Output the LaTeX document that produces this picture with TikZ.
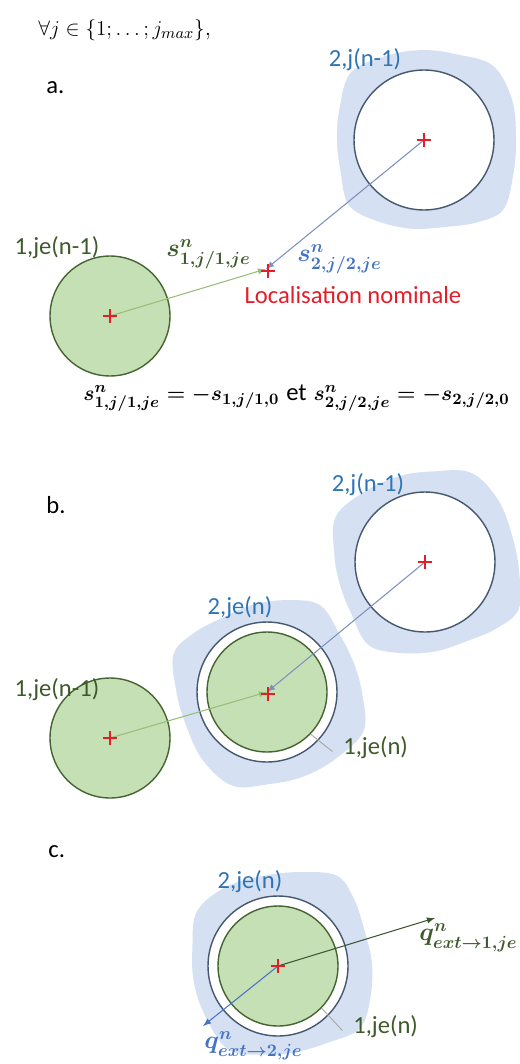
\documentclass[tikz,border=0pt]{standalone}
\usepackage{amsmath}
\usepackage{fontspec}
\usetikzlibrary{shapes.misc}
\newfontfamily\calib{Carlito}
\definecolor{greenfill}{RGB}{197,224,180}
\definecolor{greenline}{RGB}{70,100,50}
\definecolor{greentext}{RGB}{62,90,42}
\definecolor{blobblue}{RGB}{213,224,242}
\definecolor{ringline}{RGB}{70,88,112}
\definecolor{labelblue}{RGB}{46,117,182}
\definecolor{vecblue}{RGB}{68,114,196}
\definecolor{nomred}{RGB}{228,30,40}
\definecolor{arrowgreen}{RGB}{150,190,120}
\definecolor{arrowblue}{RGB}{125,145,190}
\definecolor{arrowdark}{RGB}{62,85,50}
\newcommand\blob[2]{%
  \fill[blobblue,shift={#1},rotate=#2] plot[smooth cycle,tension=0.6] coordinates
  {(0:90) (22:94) (42:104) (58:97) (78:89) (100:90) (122:95) (140:101)
   (160:91) (180:89) (200:92) (222:101) (245:93) (268:90) (290:91)
   (312:100) (335:95)};}
\tikzset{
  lbl/.style={font=\calib\fontsize{14}{17}\selectfont,inner sep=0pt},
  mlbl/.style={font=\fontsize{14}{17}\selectfont,inner sep=0pt},
  disk/.style={circle,draw=greenline,fill=greenfill,line width=0.8pt,
    minimum size=2.4cm,inner sep=0pt},
  ring/.style={circle,draw=ringline,fill=white,line width=0.8pt,
    minimum size=2.8cm,inner sep=0pt},
  nom/.style={cross out,draw=nomred,line width=1pt,rotate=45,
    minimum size=0.17cm,inner sep=0pt},
  leader/.style={draw=gray!70,line width=0.5pt}
}
\begin{document}
\begin{tikzpicture}[x=0.02cm,y=-0.02cm]
\useasboundingbox (0,0) rectangle (520,1064);
\node[mlbl,font=\fontsize{13}{16}\selectfont,anchor=west] (title) at (38,30)
  {$\forall j\in\{1{;}\,{\ldots}\,{;}\,j_{max}\}$,};
% a.
\node[lbl,anchor=west] (pa) at (46,88) {a.};
\blob{(426,140)}{0}
\node[ring] (c2a) at (424,140) {};
\node[disk] (c1a) at (110,316) {};
\coordinate (nomA) at (266,269);
\draw[arrowgreen,line width=0.6pt,-latex] (c1a.center) -- (nomA);
\draw[arrowblue,line width=0.6pt,-latex] (c2a.center) -- (nomA);
\node[nom] (x1a) at (c1a.center) {};
\node[nom] (x2a) at (c2a.center) {};
\node[nom] (xnA) at (268,271) {};
\node[lbl,text=labelblue] (l2a) at (365,60) {2,j(n-1)};
\node[lbl,text=greentext] (l1a) at (57,248) {1,je(n-1)};
\node[mlbl,text=greentext,anchor=west] (s1a) at (166,254) {$\boldsymbol{s^{n}_{1,j/1,je}}$};
\node[mlbl,text=vecblue,anchor=west] (s2a) at (297,259) {$\boldsymbol{s^{n}_{2,j/2,je}}$};
\node[lbl,text=nomred] (nomlbl) at (353,295) {Localisation nominale};
\node[mlbl,font=\fontsize{12.3}{15}\selectfont,anchor=west] (eq) at (83,398)
  {$\boldsymbol{s^{n}_{1,j/1,je}=-s_{1,j/1,0}}$ {\calib\fontsize{14}{17}\selectfont et}
   $\boldsymbol{s^{n}_{2,j/2,je}=-s_{2,j/2,0}}$};
% b.
\node[lbl,anchor=west] (pb) at (46,505) {b.};
\blob{(426,562)}{15}
\blob{(270,693)}{200}
\node[ring] (c2b) at (425,562) {};
\node[ring] (cje2b) at (267,692) {};
\node[disk] (cje1b) at (267,692) {};
\node[disk] (c1b) at (110,738) {};
\draw[arrowgreen,line width=0.6pt,-latex] (c1b.center) -- (cje1b.center);
\draw[arrowblue,line width=0.6pt,-latex] (c2b.center) -- (cje1b.center);
\node[nom] (x1b) at (c1b.center) {};
\node[nom] (x2b) at (c2b.center) {};
\node[nom] (xnb) at (268,694) {};
\node[lbl,text=labelblue] (l2b) at (368,485) {2,j(n-1)};
\node[lbl,text=labelblue] (lje2b) at (240,608) {2,je(n)};
\node[lbl,text=greentext] (l1b) at (57,690) {1,je(n-1)};
\node[lbl,text=greentext,anchor=west] (lje1b) at (343,748) {1,je(n)};
\draw[leader] (cje1b.-44) -- ([xshift=-6pt,yshift=-2pt]lje1b.west);
% c.
\node[lbl,anchor=west] (pc) at (48,852) {c.};
\blob{(282,964)}{100}
\node[ring] (cje2c) at (278,966) {};
\node[disk] (cje1c) at (278,966) {};
\coordinate (q1tip) at (435,918);
\coordinate (q2tip) at (203,1026);
\draw[arrowdark,line width=0.6pt,-latex] (cje1c.center) -- (q1tip);
\draw[vecblue,line width=0.6pt,-latex] (cje1c.center) -- (q2tip);
\node[nom] (xc) at (cje1c.center) {};
\node[lbl,text=labelblue] (lje2c) at (250,882) {2,je(n)};
\node[mlbl,text=greentext,anchor=west] (q1) at (419,938) {$\boldsymbol{q^{n}_{ext\rightarrow 1,je}}$};
\node[mlbl,text=vecblue,anchor=west] (q2) at (204,1046) {$\boldsymbol{q^{n}_{ext\rightarrow 2,je}}$};
\node[lbl,text=greentext,anchor=west] (lje1c) at (353,1027) {1,je(n)};
\draw[leader] (cje1c.-44) -- ([xshift=-6pt,yshift=-2pt]lje1c.west);
\end{tikzpicture}
\end{document}
